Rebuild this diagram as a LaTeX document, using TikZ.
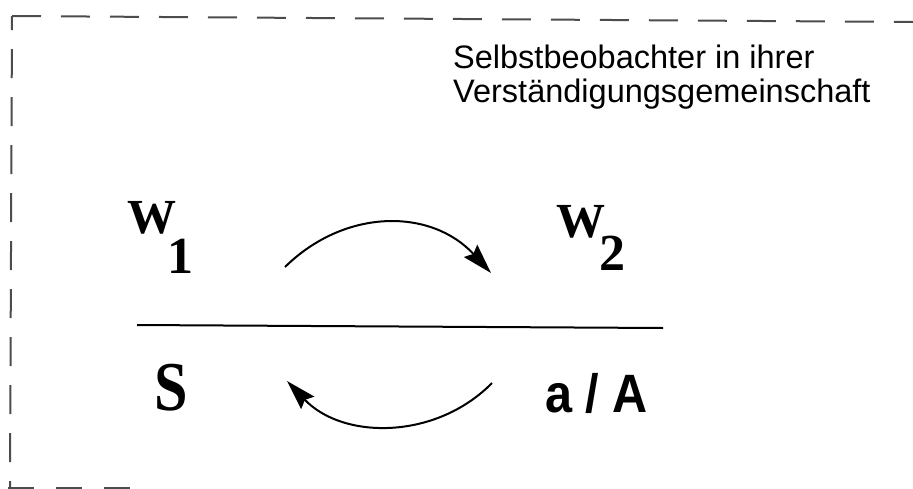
\documentclass[tikz,border=0pt]{standalone}
\usepackage{fontspec}
\setmainfont{Liberation Serif}
\newfontfamily\hsans{Liberation Sans}
\usetikzlibrary{arrows.meta}
\begin{document}
\begin{tikzpicture}[x=1pt,y=-1pt,
  frame/.style={line width=2pt, black!70},
  arcline/.style={line width=2pt, arrows={-Stealth[length=30pt,width=18pt,inset=4pt]}},
  lbl/.style={inner sep=0pt, anchor=base west},
]
\useasboundingbox (0,0) rectangle (913,488);
% frame
\coordinate (tl) at (12,16);
\coordinate (tr) at (913,22);
\coordinate (bl) at (10,488);
\coordinate (bs) at (8,487.5);
\coordinate (be) at (133,487.5);
\draw[frame, dash pattern=on 29pt off 20pt] (tl) -- (tr);
\draw[frame, dash pattern=on 29pt off 19pt, dash phase=15pt] (tl) -- (bl);
\draw[frame, dash pattern=on 26pt off 22pt] (bs) -- (be);
% title
\node[lbl, font=\hsans\fontsize{32.5}{34}\selectfont] (title1) at (453,68) {Selbstbeobachter in ihrer};
\node[lbl, font=\hsans\fontsize{32.5}{34}\selectfont] (title2) at (453,102) {Verständigungsgemeinschaft};
% labels
\node[lbl] (w1) at (127,233) {\fontsize{49}{49}\selectfont\bfseries W\kern-9pt\raisebox{-40pt}{\fontsize{52}{52}\selectfont 1}};
\node[lbl] (w2) at (556,237) {\fontsize{49}{49}\selectfont\bfseries W\kern-6pt\raisebox{-33pt}{\fontsize{52}{52}\selectfont 2}};
\node[lbl] (s) at (154,410) {\scalebox{0.86}[1]{\fontsize{70}{70}\selectfont\bfseries S}};
\node[lbl] (aA) at (545,412) {\scalebox{0.9}[1]{\hsans\fontsize{54}{54}\selectfont\bfseries a / A}};
% separator
\coordinate (hl) at (137,325);
\coordinate (hr) at (663,328);
\draw[line width=2pt] (hl) -- (hr);
% arcs
\coordinate (a1s) at (285,267);
\coordinate (a1e) at (491,273);
\draw[arcline] (a1s) .. controls (345,208) and (431,208) .. (a1e);
\coordinate (a2s) at (492,383);
\coordinate (a2e) at (287,381);
\draw[arcline] (a2s) .. controls (436,440) and (343,440) .. (a2e);
\end{tikzpicture}
\end{document}
